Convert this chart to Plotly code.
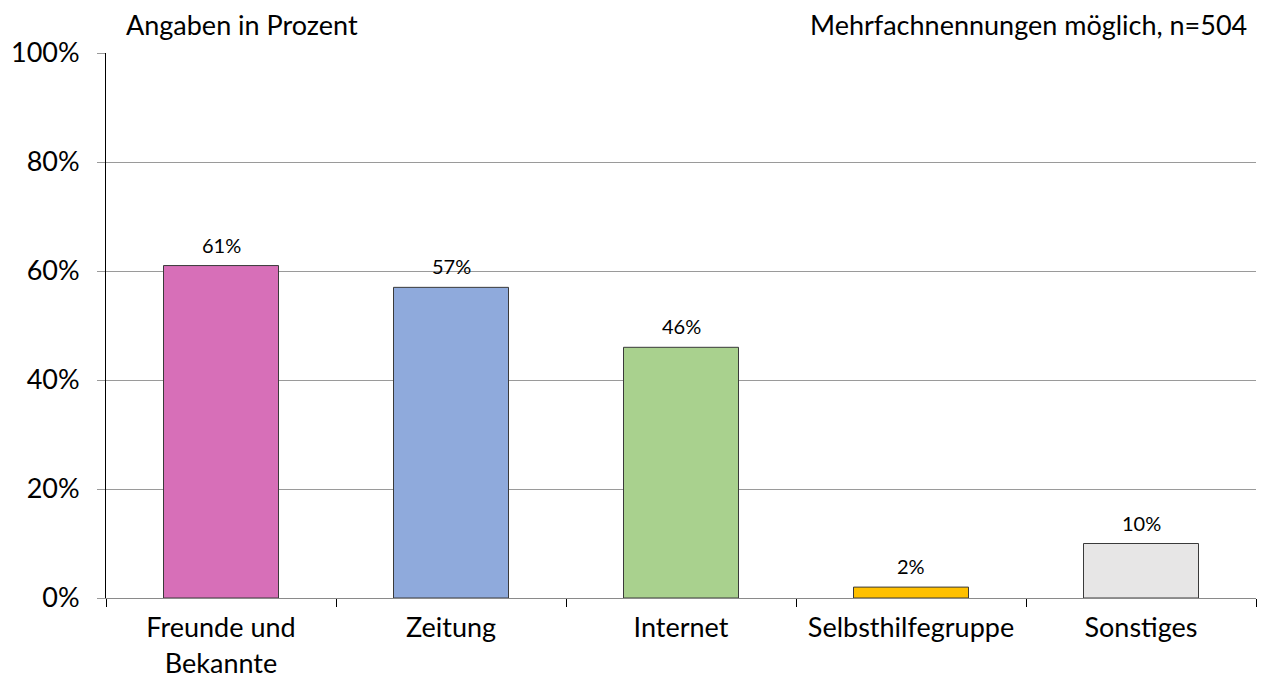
import plotly.graph_objects as go

# Survey: sources of information (multiple answers possible)
categories = ["Freunde und<br>Bekannte", "Zeitung", "Internet", "Selbsthilfegruppe", "Sonstiges"]
values = [61, 57, 46, 2, 10]
bar_colors = ["#D76FB8", "#8FAADC", "#A9D18E", "#FFC000", "#E7E6E6"]
y_ticks = [0, 20, 40, 60, 80, 100]
y_tick_labels = [f"{v}%" for v in y_ticks]

FONT = "Lato, 'Open Sans', sans-serif"

fig = go.Figure()
fig.add_trace(go.Bar(
    x=categories,
    y=values,
    width=0.5,
    marker=dict(color=bar_colors, line=dict(color="#3a3a3a", width=1)),
    hoverinfo="x+y",
))

# value labels above each bar
annotations = [
    dict(x=c, y=v, xref="x", yref="y", text=f"{v}%", showarrow=False,
         xanchor="center", yanchor="bottom", yshift=7,
         font=dict(size=20, family=FONT, color="#000000"))
    for c, v in zip(categories, values)
]
annotations += [
    dict(text="Angaben in Prozent", xref="paper", yref="paper",
         x=0.016, y=1.0, xanchor="left", yanchor="bottom", yshift=10,
         showarrow=False, font=dict(size=27, family=FONT)),
    dict(text="Mehrfachnennungen möglich, n=504", xref="paper", yref="paper",
         x=0.994, y=1.0, xanchor="right", yanchor="bottom", yshift=10,
         showarrow=False, font=dict(size=27, family=FONT)),
]

fig.update_layout(
    width=1264, height=688,
    margin=dict(l=106, r=8, t=53, b=90),
    paper_bgcolor="white",
    plot_bgcolor="white",
    showlegend=False,
    font=dict(family=FONT, color="#000000"),
    annotations=annotations,
)

fig.update_yaxes(
    range=[0, 100],
    tickvals=y_ticks,
    ticktext=y_tick_labels,
    tickfont=dict(size=27, family=FONT),
    ticklabelstandoff=12,
    automargin=False,
    showgrid=True, gridcolor="#9a9a9a", gridwidth=1,
    showline=True, linecolor="#000000", linewidth=1,
    ticks="outside", ticklen=8, tickcolor="#9a9a9a",
    zeroline=False,
)

fig.update_xaxes(
    tickfont=dict(size=27, family=FONT),
    ticklabelstandoff=6,
    automargin=False,
    showline=True, linecolor="#8a8a8a", linewidth=1,
    ticks="outside", ticklen=8, tickcolor="#000000",
    tickson="boundaries",
    showgrid=False,
)

fig.write_html("out.html")
